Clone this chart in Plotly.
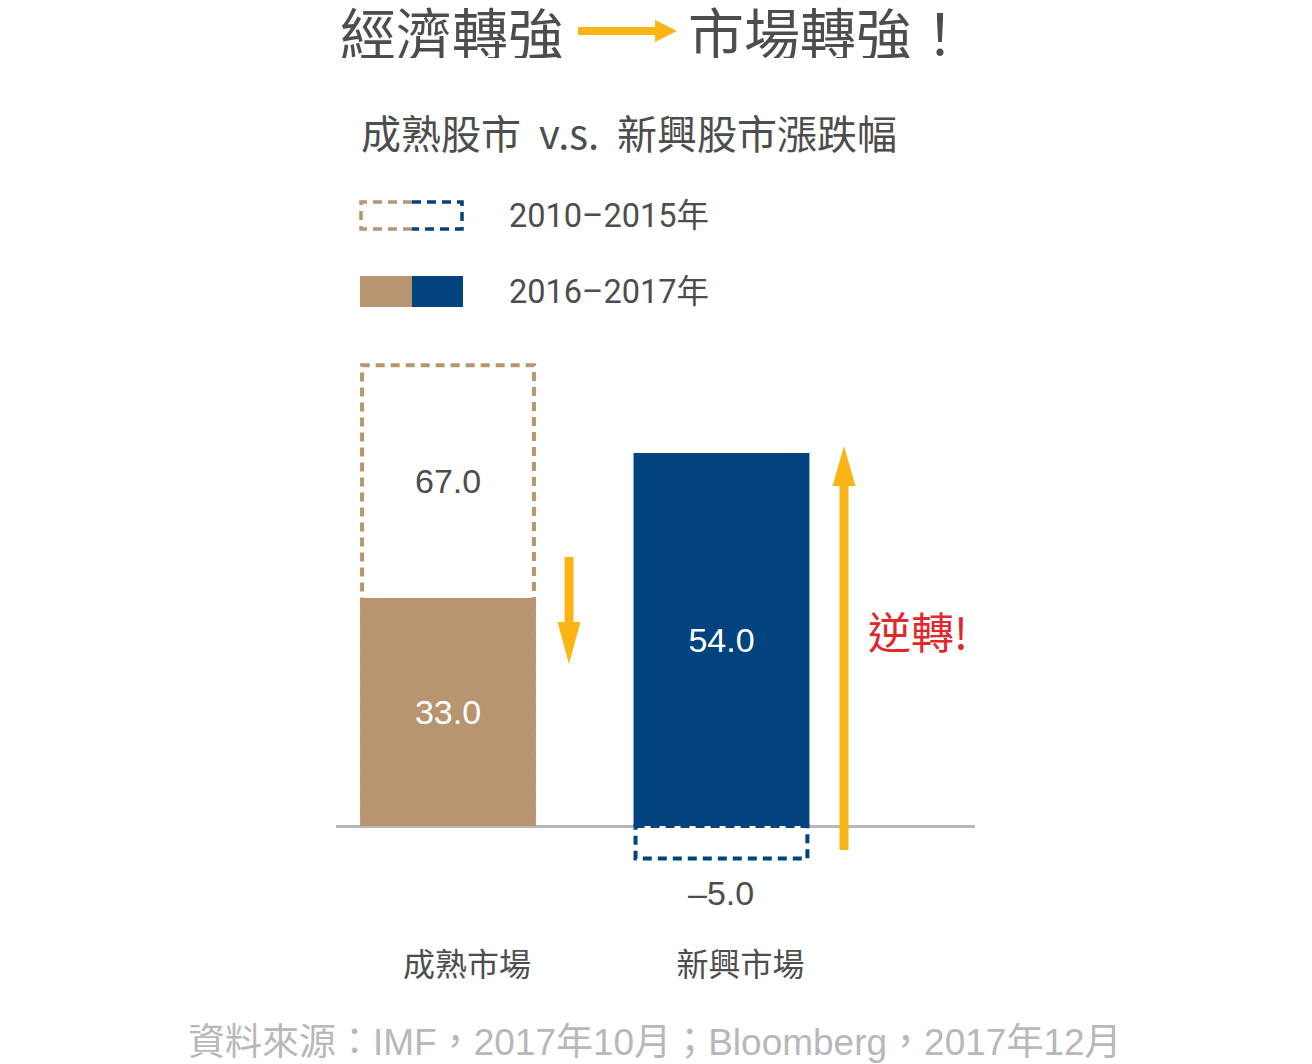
import plotly.graph_objects as go

# ---------------- data ----------------
categories = ["成熟市場", "新興市場"]
series_names = ["2010–2015年", "2016–2017年"]
values_2010_2015 = [67.0, -5.0]
values_2016_2017 = [33.0, 54.0]

title_left = "經濟轉強"
title_right = "市場轉強！"
subtitle = "成熟股市&nbsp; v.s.&nbsp; 新興股市漲跌幅"
callout = "逆轉!"
source = "資料來源：IMF，2017年10月；Bloomberg，2017年12月"

# ---------------- styles ----------------
TAN = "#B69570"
BLUE = "#00437F"
ORANGE = "#FBB416"
RED = "#E3262B"
TEXT = "#4D4D4D"
GREY = "#B8B8B8"
CJK = "Noto Sans CJK TC"
NUM = "Liberation Sans, Noto Sans CJK TC"
bar_colors = [TAN, BLUE]
BAR_W = 0.643

W, H = 1312, 1064
L, R, T, B = 336, 975, 330, 900  # plot area in page pixels
Y_RANGE = [-10.7, 71.8]
X_RANGE = [-0.4095, 1.927]
PX_PER_X = (R - L) / (X_RANGE[1] - X_RANGE[0])
PX_PER_Y = (B - T) / (Y_RANGE[1] - Y_RANGE[0])


def px(x):
    return (x - L) / (R - L)


def py(y):
    return (B - y) / (B - T)


fig = go.Figure()

# solid bars (2016-2017)
fig.add_trace(go.Bar(
    x=list(range(len(categories))), y=values_2016_2017, width=BAR_W,
    marker=dict(color=bar_colors, line=dict(width=0)),
    texttemplate="%{y:.1f}", textposition="inside", insidetextanchor="middle",
    textfont=dict(family=NUM, size=34, color="white"),
    showlegend=False, hoverinfo="skip", cliponaxis=False,
))

shapes = []
annotations = []

inset_x = 2.0 / PX_PER_X  # keep dashed outline inside the bar footprint
inset_y = 2.0 / PX_PER_Y
for i, v in enumerate(values_2010_2015):
    sgn = 1 if v > 0 else -1
    shapes.append(dict(
        type="rect", xref="x", yref="y", layer="between",
        x0=i - BAR_W / 2 + inset_x, x1=i + BAR_W / 2 - inset_x,
        y0=inset_y if v > 0 else 0, y1=v - sgn * inset_y,
        line=dict(color=bar_colors[i], width=4, dash="9px,6px"),
        fillcolor="white",
    ))
    solid = values_2016_2017[i]
    if v > 0:
        ymid = (v + solid) / 2 if v > solid else v / 2
        annotations.append(dict(
            x=i, y=ymid, xref="x", yref="y", text=f"{v:.1f}", showarrow=False,
            font=dict(family=NUM, size=34, color=TEXT),
        ))
    else:
        annotations.append(dict(
            x=i, y=v, xref="x", yref="y", text=f"{v:.1f}".replace("-", "–"),
            showarrow=False, yanchor="top", yshift=-11,
            font=dict(family=NUM, size=34, color=TEXT),
        ))


def v_arrow(xc, y_tail, y_tip, head_len, head_half, shaft_half):
    sgn = 1 if y_tip > y_tail else -1
    y_base = y_tip - sgn * head_len
    shapes.append(dict(
        type="rect", xref="paper", yref="paper", layer="above",
        x0=px(xc - shaft_half), x1=px(xc + shaft_half),
        y0=py(y_tail), y1=py(y_base), fillcolor=ORANGE, line=dict(width=0),
    ))
    shapes.append(dict(
        type="path", xref="paper", yref="paper", layer="above",
        path=f"M {px(xc - head_half)},{py(y_base)} L {px(xc + head_half)},{py(y_base)} "
             f"L {px(xc)},{py(y_tip)} Z",
        fillcolor=ORANGE, line=dict(width=0),
    ))


v_arrow(569, 557, 664, 42, 11.5, 4.5)
v_arrow(844, 850, 446, 40, 11.5, 4.5)

# title arrow (horizontal)
shapes.append(dict(type="rect", xref="paper", yref="paper",
                   x0=px(578), x1=px(656), y0=py(35), y1=py(27),
                   fillcolor=ORANGE, line=dict(width=0)))
shapes.append(dict(type="path", xref="paper", yref="paper",
                   path=f"M {px(655)},{py(20)} L {px(677)},{py(31)} L {px(655)},{py(42)} Z",
                   fillcolor=ORANGE, line=dict(width=0)))

# legend
lg_left, lg_mid, lg_right = 361, 412, 462
y_top, y_bot = 202, 229
shapes.append(dict(type="path", xref="paper", yref="paper",
                   path=f"M {px(lg_mid)},{py(y_top)} L {px(lg_left)},{py(y_top)} L {px(lg_left)},{py(y_bot)} L {px(lg_mid)},{py(y_bot)}",
                   line=dict(color=bar_colors[0], width=3.5, dash="9px,6px")))
shapes.append(dict(type="path", xref="paper", yref="paper",
                   path=f"M {px(lg_mid)},{py(y_top)} L {px(lg_right)},{py(y_top)} L {px(lg_right)},{py(y_bot)} L {px(lg_mid)},{py(y_bot)}",
                   line=dict(color=bar_colors[1], width=3.5, dash="9px,6px")))
shapes.append(dict(type="rect", xref="paper", yref="paper",
                   x0=px(360), x1=px(lg_mid), y0=py(307), y1=py(276),
                   fillcolor=bar_colors[0], line=dict(width=0)))
shapes.append(dict(type="rect", xref="paper", yref="paper",
                   x0=px(lg_mid), x1=px(463), y0=py(307), y1=py(276),
                   fillcolor=bar_colors[1], line=dict(width=0)))
for name, yc in zip(series_names, [216, 292]):
    annotations.append(dict(x=px(507), y=py(yc), xref="paper", yref="paper",
                            xanchor="left", yanchor="middle", text=name, showarrow=False,
                            font=dict(family="Roboto, " + CJK, size=32.5, color=TEXT)))

# titles
annotations += [
    dict(x=px(566), y=py(30), xref="paper", yref="paper", xanchor="right", yanchor="middle",
         text=title_left, showarrow=False, height=56, valign="middle",
         font=dict(family=CJK, size=56, color=TEXT)),
    dict(x=px(686), y=py(30), xref="paper", yref="paper", xanchor="left", yanchor="middle",
         text=title_right, showarrow=False, height=56, valign="middle",
         font=dict(family=CJK, size=56, color=TEXT)),
    dict(x=px(359), y=py(132), xref="paper", yref="paper", xanchor="left", yanchor="middle",
         text=subtitle, showarrow=False, font=dict(family=CJK, size=40, color=TEXT)),
    dict(x=px(866), y=py(630), xref="paper", yref="paper", xanchor="left", yanchor="middle",
         text=callout, showarrow=False, font=dict(family=CJK, size=43, color=RED)),
    dict(x=px(655), y=py(1042), xref="paper", yref="paper", xanchor="center", yanchor="middle",
         text=source, showarrow=False,
         font=dict(family="Liberation Sans, " + CJK, size=37, color=GREY)),
]

fig.update_layout(
    width=W, height=H,
    margin=dict(l=L, r=W - R, t=T, b=H - B, pad=0),
    paper_bgcolor="white", plot_bgcolor="white",
    showlegend=False, barmode="overlay",
    shapes=shapes, annotations=annotations,
    xaxis=dict(range=X_RANGE, tickvals=list(range(len(categories))),
               ticktext=categories, showgrid=False, zeroline=False, showline=False,
               ticks="", tickfont=dict(family=CJK, size=32, color=TEXT),
               ticklabelshift=19, ticklabelstandoff=43, fixedrange=True),
    yaxis=dict(range=Y_RANGE, showgrid=False, showticklabels=False, ticks="",
               showline=False, zeroline=True, zerolinecolor=GREY, zerolinewidth=3,
               fixedrange=True),
)

fig.write_html("out.html", config={"displayModeBar": False},
               post_script="document.body.style.margin='0';document.body.style.overflow='hidden';")
